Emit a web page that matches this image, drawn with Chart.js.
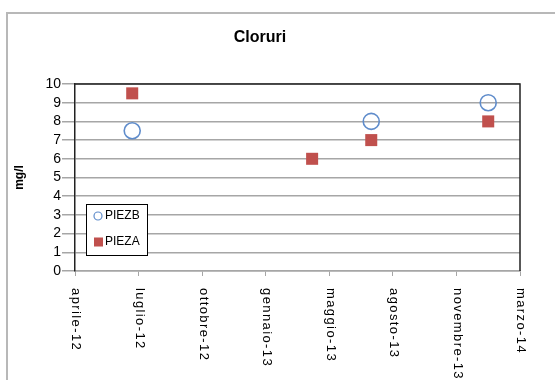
<!DOCTYPE html>
<html>
<head>
<meta charset="utf-8">
<script src="https://cdn.jsdelivr.net/npm/chart.js@4"></script>
<style>
  html, body { margin: 0; padding: 0; background: #fff; overflow: hidden; }
  #frame {
    position: absolute; left: 6px; top: 12px; width: 620px; height: 420px;
    border-top: 2px solid #b8b8b8; border-left: 2px solid #b8b8b8;
  }
  #wrap { position: absolute; left: 0; top: 0; width: 571px; height: 380px; }
</style>
</head>
<body>
<div id="frame"></div>
<div id="wrap"><canvas id="clorChart"></canvas></div>
<script>
// axis runs from 1 Apr 2012 in steps of 100 days
const startDate = '2012-04-01';
const tickLabels = ['aprile-12', 'luglio-12', 'ottobre-12', 'gennaio-13',
                    'maggio-13', 'agosto-13', 'novembre-13', 'marzo-14'];

const piezbDates = ['2012-06-30', '2013-07-11', '2014-01-11'];
const piezbValues = [7.5, 8, 9];

const piezaDates = ['2012-06-30', '2013-04-09', '2013-07-11', '2014-01-11'];
const piezaValues = [9.5, 6, 7, 8];

function dayOffset(d) {
    return Math.round((Date.parse(d) - Date.parse(startDate)) / 86400000);
}

function toPoints(dates, values) {
    return dates.map((d, i) => ({ x: dayOffset(d), y: values[i] }));
}

Chart.defaults.font.family = 'Liberation Sans';
Chart.defaults.color = '#000';

// black frame on top and right of the plot area
const plotFrame = {
    id: 'plotFrame',
    beforeDatasetsDraw(chart) {
        const a = chart.chartArea;
        const ctx = chart.ctx;
        ctx.save();
        ctx.strokeStyle = '#222';
        ctx.lineWidth = 1.5;
        ctx.beginPath();
        ctx.moveTo(a.left, a.top);
        ctx.lineTo(a.right, a.top);
        ctx.lineTo(a.right, a.bottom);
        ctx.stroke();
        ctx.restore();
    }
};

// date labels written downwards under each tick
const verticalLabels = {
    id: 'verticalLabels',
    afterDraw(chart) {
        const scale = chart.scales.x;
        const ctx = chart.ctx;
        ctx.save();
        ctx.font = '13px "Liberation Sans"';
        ctx.fillStyle = '#000';
        ctx.letterSpacing = '1.4px';
        ctx.textAlign = 'left';
        ctx.textBaseline = 'middle';
        scale.ticks.forEach((t, i) => {
            const px = scale.getPixelForValue(t.value);
            ctx.save();
            ctx.translate(px + 1, scale.top + 17);
            ctx.rotate(Math.PI / 2);
            ctx.fillText(tickLabels[i] || '', 0, 0);
            ctx.restore();
        });
        ctx.restore();
    }
};

// boxed legend sitting inside the plot, lower left
const boxLegend = {
    id: 'boxLegend',
    afterDraw(chart) {
        const a = chart.chartArea;
        const ctx = chart.ctx;
        const x = a.left + 11, y = a.top + 120, w = 61, h = 51;
        ctx.save();
        ctx.fillStyle = '#fff';
        ctx.fillRect(x, y, w, h);
        ctx.strokeStyle = '#000';
        ctx.lineWidth = 1;
        ctx.strokeRect(x + 0.5, y + 0.5, w, h);
        ctx.font = '12px "Liberation Sans"';
        ctx.textBaseline = 'middle';
        ctx.fillStyle = '#000';
        chart.data.datasets.forEach((ds, i) => {
            const cy = y + 12 + i * 26;
            if (ds.pointStyle === 'rect') {
                ctx.fillStyle = ds.backgroundColor;
                ctx.fillRect(x + 8, cy - 4.5, 9, 9);
            } else {
                ctx.strokeStyle = ds.borderColor;
                ctx.lineWidth = 1.2;
                ctx.beginPath();
                ctx.arc(x + 12, cy, 4, 0, Math.PI * 2);
                ctx.stroke();
            }
            ctx.fillStyle = '#000';
            ctx.fillText(ds.label, x + 19, cy);
        });
        ctx.restore();
    }
};

new Chart('clorChart', {
    type: 'scatter',
    data: {
        datasets: [{
            label: 'PIEZB',
            data: toPoints(piezbDates, piezbValues),
            pointStyle: 'circle',
            pointRadius: 8,
            pointHoverRadius: 8,
            borderWidth: 1.6,
            borderColor: '#5f8ccb',
            backgroundColor: 'rgba(255,255,255,0)'
        }, {
            label: 'PIEZA',
            data: toPoints(piezaDates, piezaValues),
            pointStyle: 'rect',
            pointRadius: 8.5,
            pointHoverRadius: 8.5,
            borderWidth: 0,
            borderColor: '#c0504d',
            backgroundColor: '#c0504d'
        }]
    },
    options: {
        responsive: true,
        maintainAspectRatio: false,
        animation: false,
        layout: { padding: { left: 0, right: 51, top: 0, bottom: 0 } },
        plugins: {
            legend: { display: false },
            tooltip: { enabled: false },
            title: {
                display: true,
                text: 'Cloruri',
                font: { size: 16, weight: 'bold' },
                padding: { top: 28, bottom: 36.8 }
            }
        },
        scales: {
            x: {
                type: 'linear',
                min: 0,
                max: 700,
                ticks: { display: false, stepSize: 100 },
                grid: {
                    drawOnChartArea: false,
                    drawTicks: true,
                    tickLength: 5,
                    color: '#a6a6a6'
                },
                border: { color: '#a6a6a6', width: 1.5 },
                afterFit(scale) { scale.height = 109; }
            },
            y: {
                min: 0,
                max: 10,
                ticks: { stepSize: 1, autoSkip: false, padding: 1, font: { size: 14 } },
                grid: { color: '#a6a6a6', lineWidth: 1.5, tickLength: 13 },
                border: { color: '#222', width: 1.5 },
                title: {
                    display: true,
                    text: 'mg/l',
                    font: { size: 12, weight: 'bold' },
                    padding: { top: 12.8, bottom: 0 }
                },
                afterFit(scale) { scale.width = 75; }
            }
        }
    },
    plugins: [plotFrame, verticalLabels, boxLegend]
});
</script>
</body>
</html>
